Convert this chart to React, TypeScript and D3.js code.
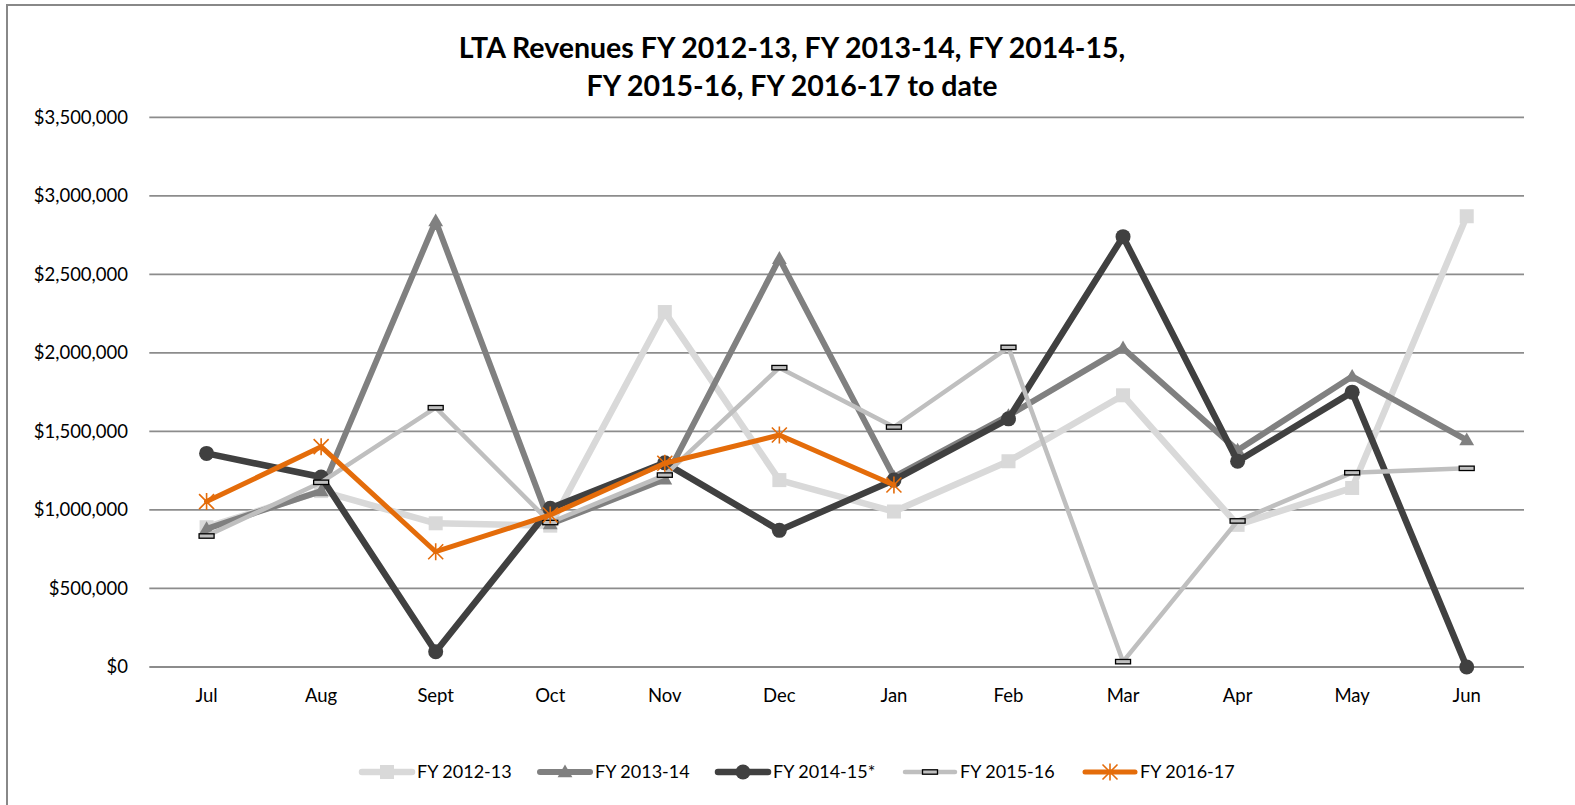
import React from "react";
import * as d3 from "d3";

const months = ["Jul", "Aug", "Sept", "Oct", "Nov", "Dec", "Jan", "Feb", "Mar", "Apr", "May", "Jun"];
const fy1213 = [890000, 1120000, 915000, 900000, 2260000, 1190000, 990000, 1310000, 1730000, 905000, 1140000, 2870000];
const fy1314 = [880000, 1120000, 2840000, 910000, 1195000, 2600000, 1210000, 1600000, 2030000, 1380000, 1850000, 1445000];
const fy1415 = [1360000, 1210000, 97000, 1010000, 1300000, 870000, 1190000, 1580000, 2740000, 1310000, 1750000, 0];
const fy1516 = [834000, 1176000, 1651000, 920000, 1222000, 1906000, 1528000, 2035000, 34000, 930000, 1237000, 1265000];
const fy1617 = [1053000, 1403000, 734000, 968000, 1297000, 1477000, 1159000];
const yTicks = [0, 500000, 1000000, 1500000, 2000000, 2500000, 3000000, 3500000];
const titleLines = ["LTA Revenues FY 2012-13, FY 2013-14, FY 2014-15,", "FY 2015-16, FY 2016-17 to date"];

type Series = { name: string; values: number[]; color: string; width: number; marker: string };
const series: Series[] = [
  { name: "FY 2012-13", values: fy1213, color: "#d9d9d9", width: 6.5, marker: "square" },
  { name: "FY 2013-14", values: fy1314, color: "#808080", width: 6, marker: "triangle" },
  { name: "FY 2014-15*", values: fy1415, color: "#404040", width: 6.5, marker: "circle" },
  { name: "FY 2015-16", values: fy1516, color: "#bfbfbf", width: 4.5, marker: "dash" },
  { name: "FY 2016-17", values: fy1617, color: "#e46c0a", width: 5, marker: "star" },
];
const legendX = [362, 540, 718, 905, 1085];

const FONT = "Lato, 'Open Sans', sans-serif";

function Marker({ type, x, y, color }: { type: string; x: number; y: number; color: string }) {
  if (type === "square") {
    return <rect x={x - 7} y={y - 7} width={14} height={14} fill={color} />;
  }
  if (type === "triangle") {
    const p = d3.symbol().type(d3.symbolTriangle).size(95)();
    return <path d={p || ""} transform={`translate(${x},${y + 1})`} fill={color} />;
  }
  if (type === "circle") {
    return <circle cx={x} cy={y} r={7.5} fill={color} />;
  }
  if (type === "dash") {
    return <rect x={x - 7.5} y={y - 2.2} width={15} height={4.4} fill={color} stroke="#000" strokeWidth={1.3} />;
  }
  if (type === "star") {
    const r = 7.5;
    const d = `M${x - r},${y - r}L${x + r},${y + r}M${x - r},${y + r}L${x + r},${y - r}M${x},${y - r - 1}L${x},${y + r + 1}`;
    return <path d={d} stroke={color} strokeWidth={1.6} fill="none" />;
  }
  return null;
}

export default function App() {
  const W = 1575, H = 805;
  const x = d3.scaleBand<string>().domain(months).range([149.3, 1524]);
  const y = d3.scaleLinear().domain([0, 3500000]).range([667, 117.3]);
  const fmt = (v: number) => "$" + d3.format(",")(v);
  const cx = (i: number) => (x(months[i]) as number) + x.bandwidth() / 2;
  const line = d3
    .line<number>()
    .x((_, i) => cx(i))
    .y((d) => y(d));

  return (
    <svg width={W} height={H} style={{ position: "absolute", left: 0, top: 0, background: "#fff" }} fontFamily={FONT}>
      <rect x={0} y={0} width={W} height={H} fill="#fff" />
      <rect x={7} y={5} width={W + 100} height={H + 100} fill="none" stroke="#888" strokeWidth={2} />
      {titleLines.map((t, i) => (
        <text key={i} x={792} y={58 + i * 37.5} textAnchor="middle" fontSize={28.5} fontWeight="bold" fill="#000">
          {t}
        </text>
      ))}
      {yTicks.map((t) => (
        <g key={t}>
          <line x1={149.3} x2={1524} y1={y(t)} y2={y(t)} stroke="#8c8c8c" strokeWidth={1.8} />
          <text x={128} y={y(t)} dy="0.35em" textAnchor="end" fontSize={18.5} fill="#000">
            {fmt(t)}
          </text>
        </g>
      ))}
      {months.map((m, i) => (
        <text key={m} x={cx(i)} y={702} textAnchor="middle" fontSize={18.5} fill="#000">
          {m}
        </text>
      ))}
      {series.map((s) => (
        <g key={s.name}>
          <path d={line(s.values) || ""} fill="none" stroke={s.color} strokeWidth={s.width} strokeLinejoin="round" strokeLinecap="round" />
          {s.values.map((v, i) => (
            <Marker key={i} type={s.marker} x={cx(i)} y={y(v)} color={s.color} />
          ))}
        </g>
      ))}
      {series.map((s, i) => (
        <g key={"lg" + s.name}>
          <line x1={legendX[i]} x2={legendX[i] + 50} y1={772} y2={772} stroke={s.color} strokeWidth={s.width} strokeLinecap="round" />
          <Marker type={s.marker} x={legendX[i] + 25} y={772} color={s.color} />
          <text x={legendX[i] + 55} y={772} dy="0.35em" fontSize={18} fill="#000">
            {s.name}
          </text>
        </g>
      ))}
    </svg>
  );
}
